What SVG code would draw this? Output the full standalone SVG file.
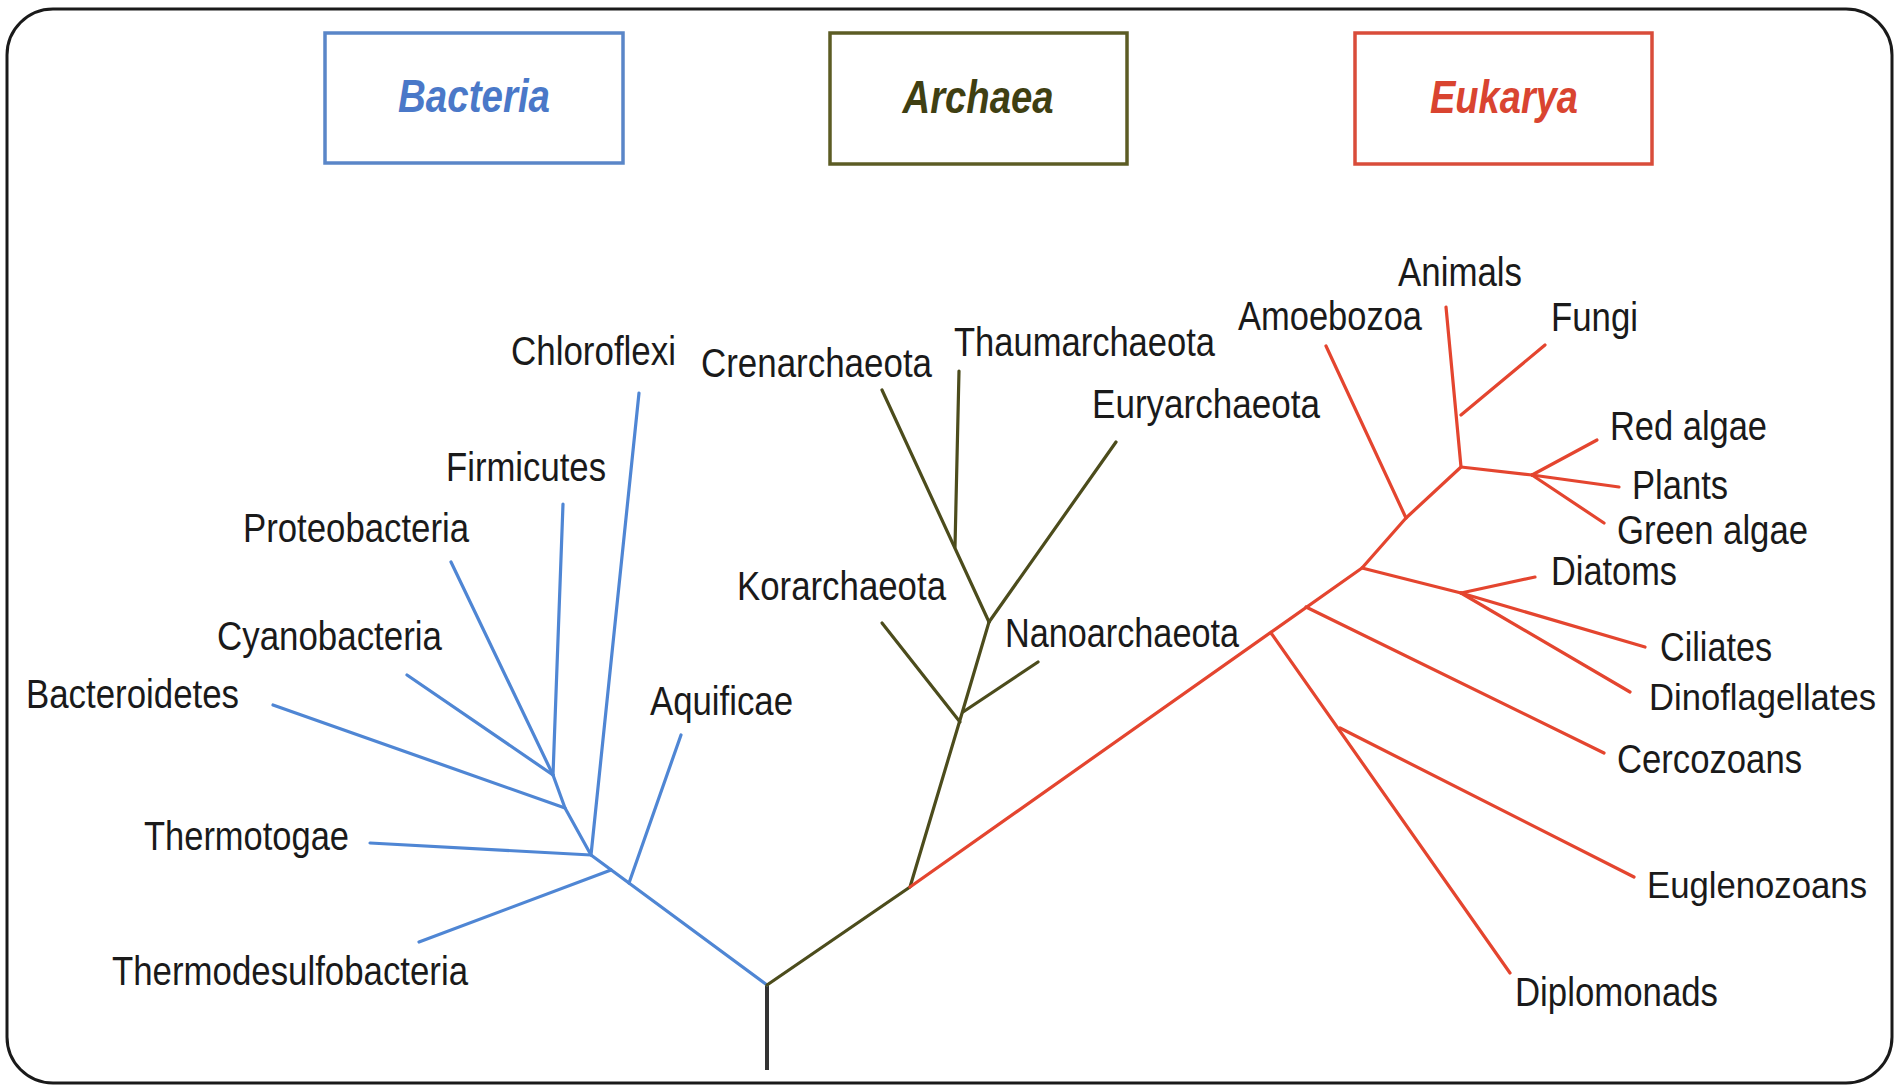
<svg xmlns="http://www.w3.org/2000/svg" width="1895" height="1086" viewBox="0 0 1895 1086">
<style>
.lbl{font-family:"Liberation Sans",Arial,sans-serif;font-size:40px;fill:#1a1a1a;}
.ttl{font-family:"Liberation Sans",Arial,sans-serif;font-size:47px;font-weight:bold;font-style:italic;text-anchor:middle;}
.bac{stroke:#4f86d4;}
.arc{stroke:#4c4c1c;}
.euk{stroke:#e4452f;}
.br{fill:none;stroke-width:3.2;stroke-linecap:round;stroke-linejoin:round;}
</style>
<rect x="0" y="0" width="1895" height="1086" fill="#ffffff"/>
<rect id="frame" x="7" y="9" width="1885" height="1074" rx="46" ry="46" fill="none" stroke="#1a1a1a" stroke-width="3"/>

<g id="box-bacteria">
<rect x="325" y="33" width="298" height="130" fill="#ffffff" stroke="#5a86c8" stroke-width="3.5"/>
<text class="ttl" x="474" y="112" fill="#4a78c8" textLength="152" lengthAdjust="spacingAndGlyphs">Bacteria</text>
</g>
<g id="box-archaea">
<rect x="830" y="33" width="297" height="131" fill="#ffffff" stroke="#5c5c24" stroke-width="3.5"/>
<text class="ttl" x="978" y="113" fill="#3f3f12" textLength="151" lengthAdjust="spacingAndGlyphs">Archaea</text>
</g>
<g id="box-eukarya">
<rect x="1355" y="33" width="297" height="131" fill="#ffffff" stroke="#d94c3a" stroke-width="3.5"/>
<text class="ttl" x="1504" y="113" fill="#d94430" textLength="148" lengthAdjust="spacingAndGlyphs">Eukarya</text>
</g>

<g id="connectors">
<path d="M767,985 L767,1070" fill="none" stroke="#333333" stroke-width="4"/>
<g class="br bac">
<path d="M767,985 L591,855 L565,808 L553,775"/>
<path d="M629,883 L681,735"/>
<path d="M611,870 L419,942"/>
<path d="M591,855 L370,843"/>
<path d="M591,855 L639,393"/>
<path d="M565,808 L273,705"/>
<path d="M553,775 L407,675"/>
<path d="M553,775 L451,562"/>
<path d="M553,775 L563,504"/>
</g>
<g class="br arc">
<path d="M767,985 L910,887 L960,720 L989,622"/>
<path d="M960,722 L882,623"/>
<path d="M963,712 L1038,662"/>
<path d="M989,622 L882,390"/>
<path d="M955,547 L959,371"/>
<path d="M989,622 L1116,442"/>
</g>
<g class="br euk">
<path d="M910,887 L1362,568 L1406,518 L1461,467 L1446,307"/>
<path d="M1406,518 L1326,346"/>
<path d="M1461,415 L1545,345"/>
<path d="M1461,467 L1532,475"/>
<path d="M1532,475 L1597,440"/>
<path d="M1532,475 L1619,487"/>
<path d="M1532,475 L1604,523"/>
<path d="M1362,568 L1461,593"/>
<path d="M1461,593 L1535,577"/>
<path d="M1461,593 L1645,647"/>
<path d="M1461,593 L1630,692"/>
<path d="M1306,607 L1604,753"/>
<path d="M1271,633 L1510,973"/>
<path d="M1340,728 L1634,877"/>
</g>
</g>

<g id="n-chloroflexi"><text class="lbl" x="511" y="365" textLength="165" lengthAdjust="spacingAndGlyphs">Chloroflexi</text></g>
<g id="n-firmicutes"><text class="lbl" x="446" y="481" textLength="160" lengthAdjust="spacingAndGlyphs">Firmicutes</text></g>
<g id="n-proteobacteria"><text class="lbl" x="243" y="542" textLength="226" lengthAdjust="spacingAndGlyphs">Proteobacteria</text></g>
<g id="n-cyanobacteria"><text class="lbl" x="217" y="650" textLength="225" lengthAdjust="spacingAndGlyphs">Cyanobacteria</text></g>
<g id="n-bacteroidetes"><text class="lbl" x="26" y="708" textLength="213" lengthAdjust="spacingAndGlyphs">Bacteroidetes</text></g>
<g id="n-aquificae"><text class="lbl" x="650" y="715" textLength="143" lengthAdjust="spacingAndGlyphs">Aquificae</text></g>
<g id="n-thermotogae"><text class="lbl" x="144" y="850" textLength="205" lengthAdjust="spacingAndGlyphs">Thermotogae</text></g>
<g id="n-thermodesulfobacteria"><text class="lbl" x="112" y="985" textLength="356" lengthAdjust="spacingAndGlyphs">Thermodesulfobacteria</text></g>

<g id="n-crenarchaeota"><text class="lbl" x="701" y="377" textLength="231" lengthAdjust="spacingAndGlyphs">Crenarchaeota</text></g>
<g id="n-thaumarchaeota"><text class="lbl" x="954" y="356" textLength="261" lengthAdjust="spacingAndGlyphs">Thaumarchaeota</text></g>
<g id="n-euryarchaeota"><text class="lbl" x="1092" y="418" textLength="228" lengthAdjust="spacingAndGlyphs">Euryarchaeota</text></g>
<g id="n-korarchaeota"><text class="lbl" x="737" y="600" textLength="209" lengthAdjust="spacingAndGlyphs">Korarchaeota</text></g>
<g id="n-nanoarchaeota"><text class="lbl" x="1005" y="647" textLength="234" lengthAdjust="spacingAndGlyphs">Nanoarchaeota</text></g>

<g id="n-animals"><text class="lbl" x="1398" y="286" textLength="124" lengthAdjust="spacingAndGlyphs">Animals</text></g>
<g id="n-amoebozoa"><text class="lbl" x="1238" y="330" textLength="184" lengthAdjust="spacingAndGlyphs">Amoebozoa</text></g>
<g id="n-fungi"><text class="lbl" x="1551" y="331" textLength="87" lengthAdjust="spacingAndGlyphs">Fungi</text></g>
<g id="n-redalgae"><text class="lbl" x="1610" y="440" textLength="157" lengthAdjust="spacingAndGlyphs">Red algae</text></g>
<g id="n-plants"><text class="lbl" x="1632" y="499" textLength="96" lengthAdjust="spacingAndGlyphs">Plants</text></g>
<g id="n-greenalgae"><text class="lbl" x="1617" y="544" textLength="191" lengthAdjust="spacingAndGlyphs">Green algae</text></g>
<g id="n-diatoms"><text class="lbl" x="1551" y="585" textLength="126" lengthAdjust="spacingAndGlyphs">Diatoms</text></g>
<g id="n-ciliates"><text class="lbl" x="1660" y="661" textLength="112" lengthAdjust="spacingAndGlyphs">Ciliates</text></g>
<g id="n-dinoflagellates"><text class="lbl" x="1649" y="710" style="font-size:36px" textLength="227" lengthAdjust="spacingAndGlyphs">Dinoflagellates</text></g>
<g id="n-cercozoans"><text class="lbl" x="1617" y="773" textLength="185" lengthAdjust="spacingAndGlyphs">Cercozoans</text></g>
<g id="n-euglenozoans"><text class="lbl" x="1647" y="898" style="font-size:37px" textLength="220" lengthAdjust="spacingAndGlyphs">Euglenozoans</text></g>
<g id="n-diplomonads"><text class="lbl" x="1515" y="1006" textLength="203" lengthAdjust="spacingAndGlyphs">Diplomonads</text></g>
</svg>
